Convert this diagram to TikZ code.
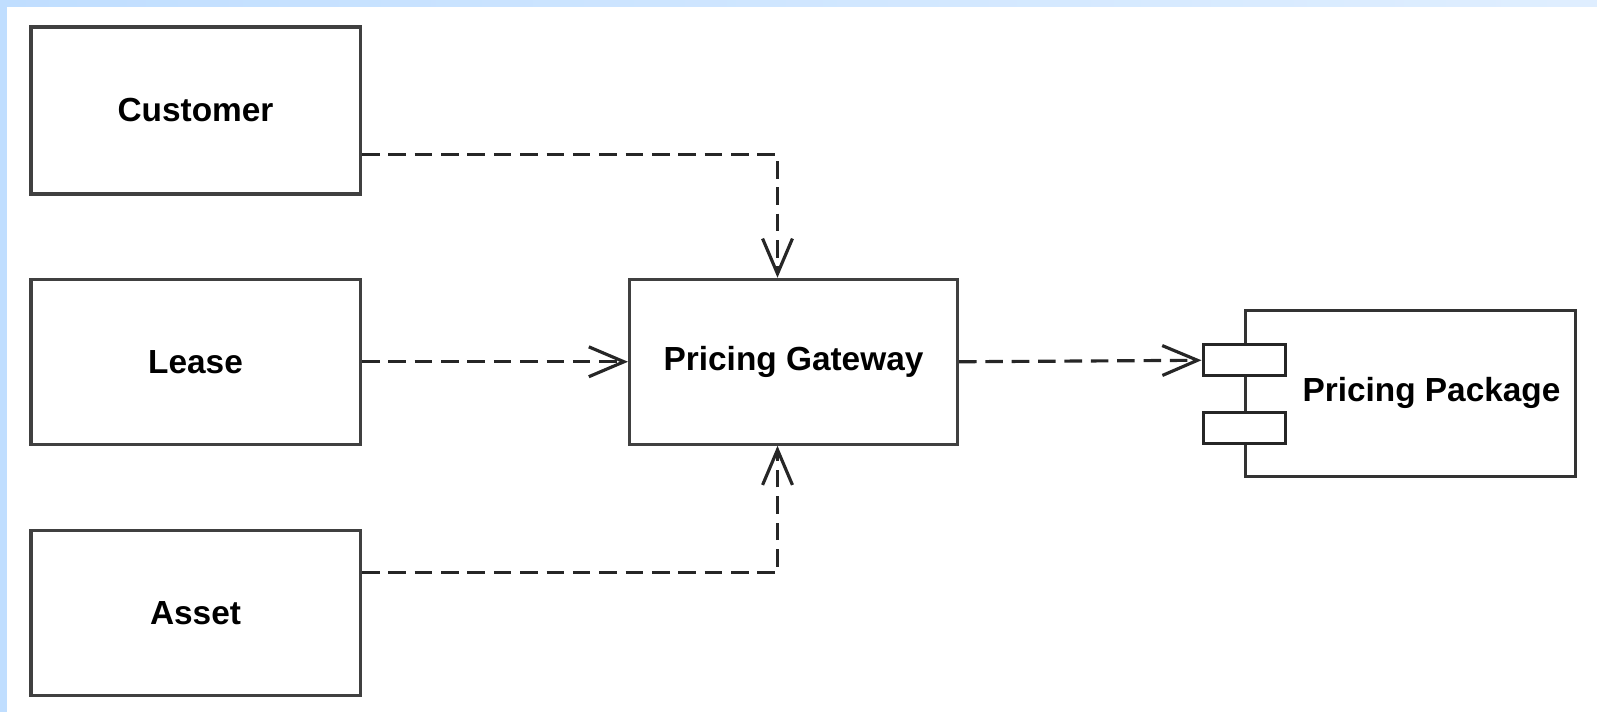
\documentclass[tikz,border=0pt]{standalone}
\usepackage{fontspec}
\setmainfont{Liberation Sans}
\usetikzlibrary{positioning,arrows.meta}
\definecolor{bandblue}{RGB}{192,222,255}
\tikzstyle{classbox} = [rectangle, minimum width=6.59cm, minimum height=3.3cm, text centered, draw=black!75, line width=2pt, font=\bfseries\fontsize{19}{22}\selectfont]
\tikzstyle{compbox} = [rectangle, minimum width=6.6cm, minimum height=3.33cm, draw=black!80, line width=1.7pt]
\tikzstyle{port} = [rectangle, minimum width=1.64cm, minimum height=0.62cm, draw=black!85, line width=1.7pt, fill=white]
\tikzstyle{boxtext} = [font=\bfseries\fontsize{19}{22}\selectfont]
\tikzstyle{dep} = [line width=1.8pt, draw=black!85, dash pattern=on 10pt off 5pt, -{Straight Barb[length=20pt,width=17pt]}]

\begin{document}
\begin{tikzpicture}
\useasboundingbox (0,0) rectangle (31.94,-14.24);
% light blue frame
\fill[bandblue] (0,0) rectangle (0.14,-14.24);
\shade[left color=bandblue, right color=bandblue!50!white] (0,0) rectangle (31.94,-0.14);

\node (customer) [classbox, minimum height=3.34cm, anchor=north west] at (0.58,-0.5) {Customer};
\node (lease) [classbox, below=1.64cm of customer] {Lease};
\node (asset) [classbox, below=1.65cm of lease] {Asset};
\node (gateway) [classbox, minimum width=6.56cm, line width=1.7pt, right=5.32cm of lease] {Pricing Gateway};
\node (pkg) [compbox, right=5.7cm of gateway, yshift=-0.63cm] {};
\node (pkgtext) [boxtext] at ([xshift=0.42cm]pkg.center) {Pricing Package};
\node (port1) [port] at ([yshift=0.66cm]pkg.west) {};
\node (port2) [port] at ([yshift=-0.7cm]pkg.west) {};

\draw [dep] ([yshift=-0.89cm]customer.east) -| ([xshift=-0.32cm]gateway.north);
\draw [dep] (lease.east) -- (gateway.west);
\draw [dep] ([yshift=0.8cm]asset.east) -| ([xshift=-0.32cm]gateway.south);
\draw [dep] (gateway.east) -- (port1.west);
\end{tikzpicture}
\end{document}
